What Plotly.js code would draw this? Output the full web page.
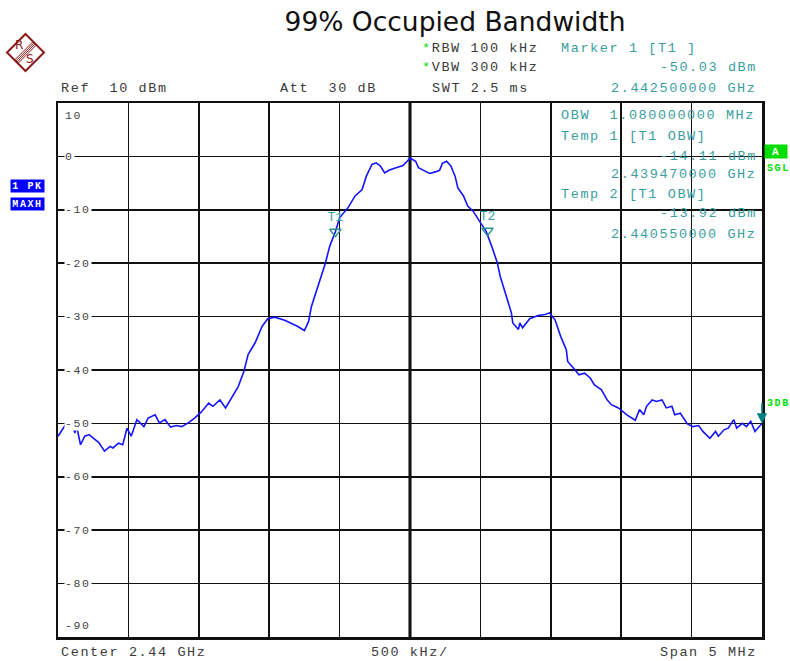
<!DOCTYPE html>
<html>
<head>
<meta charset="utf-8">
<script src="https://cdn.plot.ly/plotly-3.0.1.min.js"></script>
<style>
html,body{margin:0;padding:0;background:#fff;}
#chart{width:790px;height:661px;}
.annotation-text{letter-spacing:1.6px;}
</style>
</head>
<body>
<div id="chart"></div>
<script>
// ---- data ----
const freqGHz = [
2.43750,2.43755,2.43757,2.43760,2.43762,2.43763,2.43766,2.43769,2.43772,2.43779,
2.43783,2.43787,2.43789,2.43793,2.43796,2.43799,2.43802,2.43806,2.43811,2.43814,
2.43819,2.43822,2.43826,2.43830,2.43834,2.43838,2.43843,2.43847,2.43852,2.43857,
2.43860,2.43865,2.43869,2.43873,2.43878,2.43882,2.43885,2.43890,2.43895,2.43899,
2.43904,2.43911,2.43918,2.43920,2.43925,2.43928,2.43930,2.43934,2.43936,2.43940,
2.43943,2.43947,2.43950,2.43956,2.43961,2.43966,2.43969,2.43973,2.43976,2.43979,
2.43982,2.43985,2.43988,2.43992,2.43995,2.43998,2.44000,2.44004,2.44006,2.44011,
2.44014,2.44018,2.44021,2.44023,2.44026,2.44029,2.44032,2.44034,2.44038,2.44041,
2.44045,2.44050,2.44054,2.44058,2.44062,2.44064,2.44067,2.44070,2.44072,2.44073,
2.44077,2.44078,2.44080,2.44085,2.44091,2.44096,2.44099,2.44103,2.44107,2.44111,
2.44112,2.44117,2.44120,2.44124,2.44128,2.44131,2.44136,2.44140,2.44143,2.44148,
2.44154,2.44160,2.44163,2.44166,2.44168,2.44172,2.44175,2.44179,2.44182,2.44186,
2.44188,2.44192,2.44197,2.44201,2.44205,2.44208,2.44213,2.44217,2.44219,2.44223,
2.44226,2.44230,2.44232,2.44236,2.44239,2.44242,2.44245,2.44249,2.44250
];
const levelDbm = [
-52.4,-50.4,-50.9,-49.8,-51.8,-50.3,-54.0,-52.4,-52.1,-53.6,
-55.2,-54.3,-54.6,-53.7,-54.0,-50.9,-52.4,-49.3,-50.6,-49.0,
-48.4,-49.9,-49.3,-50.7,-50.4,-50.6,-49.8,-49.0,-47.8,-46.2,
-46.8,-45.6,-47.1,-45.3,-43.1,-40.3,-37.1,-34.9,-31.8,-30.4,
-30.1,-30.7,-31.5,-31.8,-32.6,-30.9,-28.1,-24.9,-23.1,-19.9,
-16.8,-14.1,-11.5,-9.6,-7.4,-6.2,-3.7,-1.5,-1.2,-1.8,
-3.1,-2.6,-2.3,-1.9,-1.7,-0.9,-0.3,-0.9,-2.1,-2.8,
-3.2,-2.9,-2.6,-1.3,-0.9,-1.8,-3.7,-5.9,-7.4,-9.3,
-10.3,-12.4,-14.0,-16.8,-19.9,-22.4,-24.9,-27.4,-29.3,-31.2,
-32.4,-31.2,-32.1,-30.4,-29.8,-29.6,-29.3,-30.6,-33.7,-36.2,
-38.4,-39.9,-40.9,-40.6,-41.5,-42.8,-43.7,-45.6,-46.5,-47.1,
-48.4,-49.4,-47.4,-48.4,-46.8,-45.6,-45.9,-45.6,-47.1,-46.8,
-48.4,-48.1,-50.1,-50.6,-50.4,-51.5,-52.8,-51.5,-52.4,-51.2,
-50.9,-49.3,-50.9,-50.0,-50.6,-49.6,-51.5,-50.3,-50.03
];
const obwMarkerNames = ["T1","T2"];
const obwMarkerFreq = [2.43947, 2.44055];
const obwMarkerLevel = [-14.11, -13.92];
const marker1Freq = [2.4425];
const marker1Level = [-50.03];
const centerGHz = 2.44;
const spanGHz = 0.005;
const divGHz = 0.0005;
const yRange = [-90, 10];
const yTickVals = [10,0,-10,-20,-30,-40,-50,-60,-70,-80,-90];
const yTickText = ["10","0","-10","-20","-30","-40","-50","-60","-70","-80","-90"];

// ---- layout helpers (pixel -> paper) ----
const L=58, R=762, T=103, B=637;
const px = x => (x-L)/(R-L);
const py = y => (B-y)/(B-T);
const MONO = "Liberation Mono, DejaVu Sans Mono, monospace";
const TEAL = "#3a9e9e";
const GREEN = "#00dd00";
const TXT = "#3a3a3a";

function txt(text, x, y, anchor, color, size, extra){
  return Object.assign({xref:"paper", yref:"paper", x:px(x), y:py(y), text:text,
    showarrow:false, xanchor:anchor, yanchor:"middle",
    font:{family:MONO, size:size||13.5, color:color||TXT}}, extra||{});
}
const nb = "\u00a0";
const star = '<span style="color:'+GREEN+'">*</span>';
const lc = "#8b1a1a";

const annotations = [
  txt("Ref"+nb+nb+"10 dBm", 59, 88, "left"),
  txt("Att"+nb+nb+"30 dB", 278, 88, "left"),
  txt(star+"RBW 100 kHz", 420, 48, "left"),
  txt(star+"VBW 300 kHz", 420, 68, "left"),
  txt("SWT 2.5 ms", 430, 88, "left"),
  txt("Marker 1 [T1 ]", 559, 48, "left", TEAL),
  txt("-50.03 dBm", 759, 68, "right", TEAL),
  txt("2.442500000 GHz", 759, 88, "right", TEAL),
  txt("OBW"+nb+nb+"1.080000000 MHz", 559, 115, "left", TEAL),
  txt("Temp 1 [T1 OBW]", 559, 136, "left", TEAL),
  txt("-14.11 dBm", 759, 156, "right", TEAL),
  txt("2.439470000 GHz", 759, 174, "right", TEAL),
  txt("Temp 2 [T1 OBW]", 559, 194, "left", TEAL),
  txt("-13.92 dBm", 759, 214, "right", TEAL),
  txt("2.440550000 GHz", 759, 234, "right", TEAL),
  txt("Center 2.44 GHz", 59, 652, "left"),
  txt("500 kHz/", 410, 652, "center"),
  txt("Span 5 MHz", 759, 652, "right"),
  txt("<b>1 PK</b>", 27, 186, "center", "#ffffff", 10, {bgcolor:"#0000ff", width:33, height:12, borderpad:0}),
  txt("<b>MAXH</b>", 27, 204, "center", "#ffffff", 10, {bgcolor:"#0000ff", width:33, height:12, borderpad:0}),
  txt("<b>A</b>", 776, 151, "center", "#ffffff", 11, {bgcolor:GREEN, width:22, height:13, borderpad:0}),
  txt("<b>SGL</b>", 765, 168, "left", GREEN, 10),
  txt("<b>3DB</b>", 765, 403, "left", GREEN, 10),
  txt("R", 19.5, 45.5, "center", lc, 12, {font:{family:"DejaVu Sans", size:12, color:lc}}),
  txt("S", 30.5, 59.5, "center", lc, 12, {font:{family:"DejaVu Sans", size:12, color:lc}}),
  {xref:"x", yref:"y", x:marker1Freq[0], y:marker1Level[0], showarrow:true,
   arrowhead:2, arrowsize:1.3, arrowwidth:1.6, arrowcolor:"#008080", ax:0, ay:-22, text:""}
];
yTickVals.forEach((v,i)=>{
  const a = {xref:"paper", yref:"y", x:px(64), y:v, text:yTickText[i], showarrow:false,
    xanchor:"left", yanchor:"middle", bgcolor:"#ffffff", borderpad:0,
    font:{family:MONO, size:11.5, color:"#444"}};
  if (i===0){ a.yanchor="top"; a.yshift=-5; a.bgcolor="rgba(0,0,0,0)"; }
  if (i===yTickVals.length-1){ a.yanchor="bottom"; a.yshift=4; a.bgcolor="rgba(0,0,0,0)"; }
  annotations.push(a);
});

// logo shapes (decoration)
const cx=25.5, cy=52.5, hs=18.5;
const shapes = [
  {type:"line", xref:"x", yref:"paper", x0:centerGHz, x1:centerGHz, y0:0, y1:1, line:{color:"#000", width:3}, layer:"below"},
  {type:"path", xref:"paper", yref:"paper",
   path:`M ${px(cx)} ${py(cy-hs)} L ${px(cx+hs)} ${py(cy)} L ${px(cx)} ${py(cy+hs)} L ${px(cx-hs)} ${py(cy)} Z`,
   line:{color:lc, width:2}}
];
[-2.4,-0.8,0.8,2.4].forEach(o=>{
  shapes.push({type:"line", xref:"paper", yref:"paper",
    x0:px(cx+9.2+o*0.7), y0:py(cy-9.2+o*0.7), x1:px(cx-9.2+o*0.7), y1:py(cy+9.2+o*0.7),
    line:{color:lc, width:1}});
});

const traces = [
  {x:freqGHz, y:levelDbm, type:"scatter", mode:"lines",
   line:{color:"#1414ff", width:1.6}, hoverinfo:"skip", showlegend:false},
  {x:obwMarkerFreq, y:obwMarkerLevel, type:"scatter", mode:"markers+text",
   text:obwMarkerNames, textposition:"top center",
   textfont:{family:MONO, size:13, color:TEAL},
   marker:{symbol:"triangle-down-open", size:10, color:"#2a9090", line:{width:1.3}},
   showlegend:false, hoverinfo:"skip", cliponaxis:false}
];

const layout = {
  width:790, height:661,
  margin:{l:L, r:790-R, t:T, b:661-B, pad:0},
  paper_bgcolor:"#fff", plot_bgcolor:"#fff",
  title:{text:"99% Occupied Bandwidth", xref:"container", yref:"container",
    x:455/790, y:1-22/661, xanchor:"center", yanchor:"middle",
    font:{family:"DejaVu Sans", size:26.5, color:"#111"}},
  xaxis:{range:[centerGHz-spanGHz/2, centerGHz+spanGHz/2], tick0:centerGHz-spanGHz/2, dtick:divGHz,
    showticklabels:false, ticks:"", showgrid:true, gridcolor:"#111", gridwidth:1.6,
    showline:true, mirror:true, linecolor:"#111", linewidth:2.5, zeroline:false, fixedrange:true},
  yaxis:{range:yRange, tick0:-90, dtick:10, showticklabels:false, ticks:"",
    showgrid:true, gridcolor:"#111", gridwidth:1.6,
    showline:true, mirror:true, linecolor:"#111", linewidth:2.5, zeroline:false, fixedrange:true},
  annotations:annotations,
  shapes:shapes,
  showlegend:false
};

Plotly.newPlot("chart", traces, layout, {displayModeBar:false, staticPlot:true});
</script>
</body>
</html>
